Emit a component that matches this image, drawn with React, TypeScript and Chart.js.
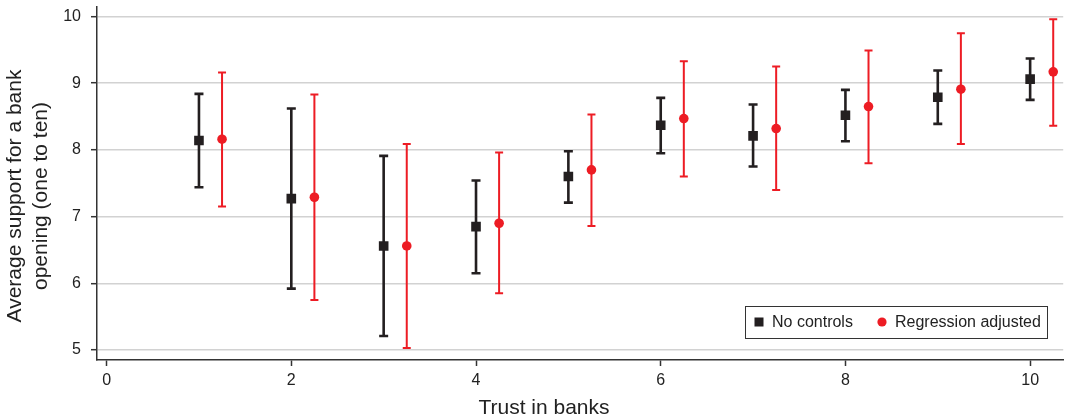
import React, { useEffect, useRef } from 'react';
import { Chart, registerables } from 'chart.js';

Chart.register(...registerables);

const trustLevels = [1, 2, 3, 4, 5, 6, 7, 8, 9, 10];
const noControlsMean = [8.14, 7.27, 6.56, 6.85, 7.6, 8.37, 8.21, 8.52, 8.79, 9.06];
const noControlsLow = [7.44, 5.92, 5.21, 6.15, 7.21, 7.95, 7.75, 8.13, 8.39, 8.75];
const noControlsHigh = [8.84, 8.62, 7.91, 7.54, 7.98, 8.78, 8.68, 8.9, 9.19, 9.37];
const adjustedOffset = 0.25;
const adjustedMean = [8.16, 7.29, 6.56, 6.9, 7.7, 8.47, 8.32, 8.65, 8.91, 9.17];
const adjustedLow = [7.15, 5.75, 5.03, 5.85, 6.86, 7.6, 7.4, 7.8, 8.09, 8.36];
const adjustedHigh = [9.16, 8.83, 8.09, 7.96, 8.53, 9.33, 9.25, 9.49, 9.75, 9.96];
const xTicks = [0, 2, 4, 6, 8, 10];
const yTicks = [5, 6, 7, 8, 9, 10];
const xTitle = 'Trust in banks';
const yTitleLines = ['Average support for a bank', 'opening (one to ten)'];
const legendLabels = ['No controls', 'Regression adjusted'];

const BLACK = '#231f20';
const RED = '#ed1c24';
const AXIS = '#333333';
const TEXT = '#222222';
const FONT = '"Liberation Sans", Arial, Helvetica, sans-serif';

const errorBarPlugin = {
  id: 'errorBars',
  beforeDatasetsDraw(chart: any) {
    const ctx = chart.ctx;
    const yScale = chart.scales.y;
    chart.data.datasets.forEach((ds: any, i: number) => {
      const meta = chart.getDatasetMeta(i);
      ctx.save();
      ctx.strokeStyle = ds.barColor;
      ctx.lineWidth = ds.barWidth;
      meta.data.forEach((pt: any, j: number) => {
        const x = pt.x;
        const yl = yScale.getPixelForValue(ds.errLow[j]);
        const yh = yScale.getPixelForValue(ds.errHigh[j]);
        const hw = ds.capHalf;
        ctx.beginPath();
        ctx.moveTo(x, yl);
        ctx.lineTo(x, yh);
        ctx.moveTo(x - hw, yl);
        ctx.lineTo(x + hw, yl);
        ctx.moveTo(x - hw, yh);
        ctx.lineTo(x + hw, yh);
        ctx.stroke();
      });
      ctx.restore();
    });
  },
};

const annotationsPlugin = {
  id: 'annotations',
  afterDraw(chart: any) {
    const ctx = chart.ctx;
    ctx.save();
    // x title
    ctx.fillStyle = TEXT;
    ctx.font = `21px ${FONT}`;
    ctx.textAlign = 'center';
    ctx.textBaseline = 'alphabetic';
    ctx.fillText(xTitle, 544, 414);
    // y title
    ctx.save();
    ctx.translate(0, 196);
    ctx.rotate(-Math.PI / 2);
    ctx.fillText(yTitleLines[0], 0, 21);
    ctx.fillText(yTitleLines[1], 0, 47);
    ctx.restore();
    // legend
    ctx.fillStyle = '#ffffff';
    ctx.fillRect(745, 306, 303, 32);
    ctx.strokeStyle = AXIS;
    ctx.lineWidth = 1;
    ctx.strokeRect(745.5, 306.5, 302, 32);
    ctx.fillStyle = BLACK;
    ctx.fillRect(754.5, 317.5, 9, 9);
    ctx.fillStyle = RED;
    ctx.beginPath();
    ctx.arc(882, 322, 4.6, 0, Math.PI * 2);
    ctx.fill();
    ctx.fillStyle = TEXT;
    ctx.font = `16px ${FONT}`;
    ctx.textAlign = 'left';
    ctx.textBaseline = 'middle';
    ctx.fillText(legendLabels[0], 772, 323);
    ctx.fillText(legendLabels[1], 895, 323);
    ctx.restore();
  },
};

export default function App() {
  const canvasRef = useRef<HTMLCanvasElement | null>(null);

  useEffect(() => {
    if (!canvasRef.current) return;
    Chart.defaults.font.family = FONT;
    const chart = new Chart(canvasRef.current, {
      type: 'scatter',
      data: {
        datasets: [
          {
            label: legendLabels[0],
            data: trustLevels.map((t, i) => ({ x: t, y: noControlsMean[i] })),
            pointStyle: 'rect',
            pointRadius: 6.8,
            backgroundColor: BLACK,
            borderColor: BLACK,
            borderWidth: 0,
            errLow: noControlsLow,
            errHigh: noControlsHigh,
            barColor: BLACK,
            barWidth: 2.6,
            capHalf: 4.5,
          } as any,
          {
            label: legendLabels[1],
            data: trustLevels.map((t, i) => ({ x: t + adjustedOffset, y: adjustedMean[i] })),
            pointStyle: 'circle',
            pointRadius: 4.8,
            backgroundColor: RED,
            borderColor: RED,
            borderWidth: 0,
            errLow: adjustedLow,
            errHigh: adjustedHigh,
            barColor: RED,
            barWidth: 2,
            capHalf: 4,
          } as any,
        ],
      },
      options: {
        animation: false,
        responsive: false,
        devicePixelRatio: 1,
        layout: { padding: { top: 6, left: 0, right: 0, bottom: 0 } },
        plugins: { legend: { display: false }, tooltip: { enabled: false } },
        scales: {
          x: {
            type: 'linear',
            min: -0.104,
            max: 10.358,
            afterBuildTicks: (s: any) => {
              s.ticks = xTicks.map((v) => ({ value: v }));
            },
            afterFit: (s: any) => {
              s.height = 58;
              s.paddingLeft = 0;
              s.paddingRight = 0;
            },
            grid: {
              drawOnChartArea: false,
              drawTicks: true,
              tickLength: 6,
              tickColor: AXIS,
              tickWidth: 1.5,
            },
            border: { display: true, color: AXIS, width: 1.5 },
            ticks: {
              color: TEXT,
              font: { size: 16, family: FONT },
              padding: 5,
              maxRotation: 0,
              autoSkip: false,
            },
          },
          y: {
            type: 'linear',
            min: 4.85,
            max: 10.145,
            afterBuildTicks: (s: any) => {
              s.ticks = yTicks.map((v) => ({ value: v }));
            },
            afterFit: (s: any) => {
              s.width = 97;
              s.paddingTop = 0;
              s.paddingBottom = 0;
            },
            grid: {
              color: '#d2d2d2',
              lineWidth: 1.4,
              drawTicks: true,
              tickLength: 6,
              tickColor: AXIS,
              tickWidth: 1.5,
            },
            border: { display: true, color: AXIS, width: 1.5 },
            ticks: {
              color: TEXT,
              font: { size: 16, family: FONT },
              padding: 10,
              autoSkip: false,
            },
          },
        },
      } as any,
      plugins: [errorBarPlugin, annotationsPlugin],
    });
    return () => chart.destroy();
  }, []);

  return (
    <div style={{ position: 'fixed', left: 0, top: 0, width: 1070, height: 418, background: '#fff' }}>
      <canvas ref={canvasRef} width={1070} height={418} style={{ width: 1070, height: 418, display: 'block' }} />
    </div>
  );
}
